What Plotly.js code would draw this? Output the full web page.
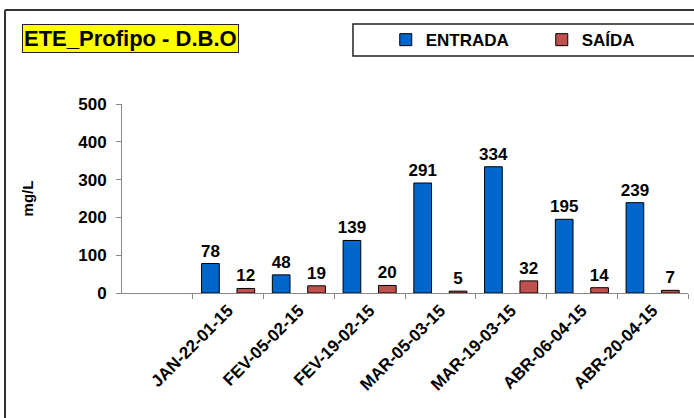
<!DOCTYPE html>
<html>
<head>
<meta charset="utf-8">
<script src="https://cdn.plot.ly/plotly-3.0.1.min.js"></script>
<style>
  body { margin: 0; background: #fff; }
  #chart { width: 694px; height: 418px; }
</style>
</head>
<body>
<div id="chart"></div>
<script>
////////// data
var datas = ['JAN-22-01-15', 'FEV-05-02-15', 'FEV-19-02-15', 'MAR-05-03-15',
             'MAR-19-03-15', 'ABR-06-04-15', 'ABR-20-04-15'];
var entrada = [78, 48, 139, 291, 334, 195, 239];
var saida = [12, 19, 20, 5, 32, 14, 7];

var fonte = 'Liberation Sans, Arial, sans-serif';

////////// traces
var data = [{
    x: datas,
    y: entrada,
    name: 'ENTRADA',
    type: 'bar',
    marker: {color: '#0066CC', line: {color: '#000000', width: 1}},
    text: entrada.map(String),
    textposition: 'outside',
    constraintext: 'none',
    textfont: {size: 17, family: fonte, color: '#000', weight: 'bold'},
    cliponaxis: false
  }, {
    x: datas,
    y: saida,
    name: 'SAÍDA',
    type: 'bar',
    marker: {color: '#C0504D', line: {color: '#000000', width: 1}},
    text: saida.map(String),
    textposition: 'outside',
    constraintext: 'none',
    textfont: {size: 17, family: fonte, color: '#000', weight: 'bold'},
    cliponaxis: false
  }];

////////// layout
var layout = {
    width: 694, height: 418,
    margin: {l: 122, r: 6, t: 104, b: 125, autoexpand: false},
    paper_bgcolor: '#fff', plot_bgcolor: '#fff',
    font: {family: fonte, size: 15, color: '#000', weight: 'bold'},
    barmode: 'group', bargap: 0, bargroupgap: 0.5,
    showlegend: true,
    legend: {orientation: 'h', x: 0.466, y: 1.338, xanchor: 'left', yanchor: 'middle',
             bgcolor: 'rgba(0,0,0,0)', borderwidth: 0, entrywidth: 111,
             font: {size: 17, family: fonte, weight: 'bold'}},
    xaxis: {
      type: 'category', categoryarray: datas, categoryorder: 'array',
      range: [-1.5, 6.5], tickson: 'boundaries',
      showline: true, linecolor: '#888', linewidth: 1,
      ticks: 'outside', ticklen: 5, tickcolor: '#888',
      tickangle: -45, showgrid: false, zeroline: false,
      tickfont: {size: 17, family: fonte, weight: 'bold'}, fixedrange: true
    },
    yaxis: {
      range: [0, 500], dtick: 100, showline: true, linecolor: '#888', linewidth: 1,
      ticks: 'outside', ticklen: 5, tickcolor: '#888', ticklabelstandoff: 6,
      showgrid: false, zeroline: false,
      tickfont: {size: 17, family: fonte, weight: 'bold'},
      title: {text: 'mg/L', standoff: 40, font: {size: 15, family: fonte, weight: 'bold'}}
    },
    annotations: [{
      xref: 'paper', yref: 'paper', x: -0.1767, y: 1.4233,
      xanchor: 'left', yanchor: 'top', showarrow: false,
      text: 'ETE_Profipo - D.B.O',
      font: {size: 22, family: fonte, color: '#000', weight: 'bold'},
      bgcolor: '#FFFF00', bordercolor: '#222', borderwidth: 1, borderpad: 1
    }],
    shapes: [
      // legend frame
      {type: 'rect', xref: 'paper', yref: 'paper', x0: 0.4081, x1: 1.0124, y0: 1.254, y1: 1.4233,
       line: {color: '#222', width: 1.5}, fillcolor: 'rgba(0,0,0,0)'},
      // outer chart frame (left and top)
      {type: 'line', xref: 'paper', yref: 'paper', x0: -0.2067, x1: -0.2067, y0: -1, y1: 1.4974,
       line: {color: '#333', width: 2}},
      {type: 'line', xref: 'paper', yref: 'paper', x0: -0.2067, x1: 1.1, y0: 1.4974, y1: 1.4974,
       line: {color: '#333', width: 2}}
    ]
};

///////////////// plot
Plotly.newPlot('chart', data, layout, {displayModeBar: false, staticPlot: true});
</script>
</body>
</html>
